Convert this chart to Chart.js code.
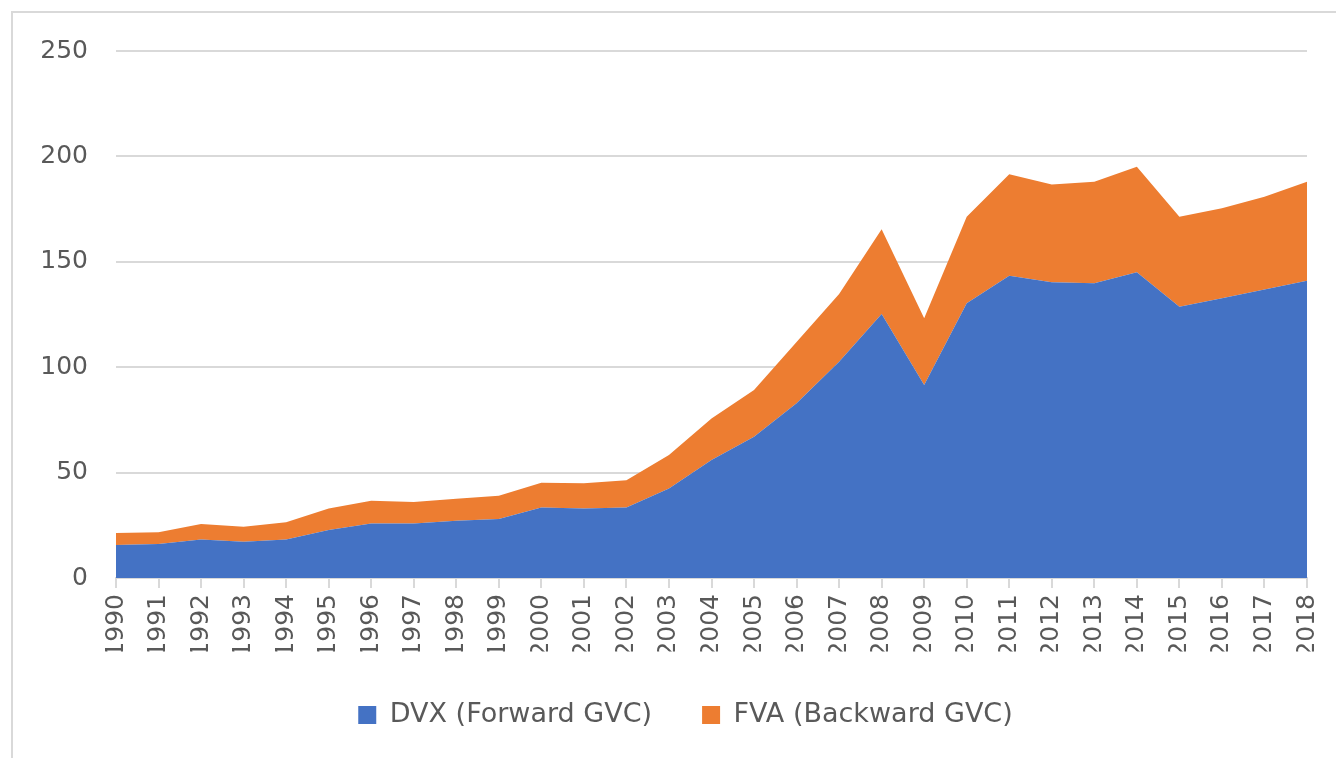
<!DOCTYPE html>
<html>
<head>
<meta charset="utf-8">
<script src="https://cdn.jsdelivr.net/npm/chart.js@4.4.1/dist/chart.umd.min.js"></script>
<style>
  html, body { margin: 0; padding: 0; background: #ffffff; }
  #wrap { position: relative; width: 1336px; height: 758px; overflow: hidden; }
  #frame { position: absolute; left: 11px; top: 11px; width: 1400px; height: 800px;
           border-left: 2px solid #d9d9d9; border-top: 2px solid #d9d9d9; pointer-events: none; }
  canvas { position: absolute; left: 0; top: 0; }
</style>
</head>
<body>
<div id="wrap">
  <canvas id="c" width="1336" height="758"></canvas>
  <div id="frame"></div>
</div>
<script>
const years = ["1990","1991","1992","1993","1994","1995","1996","1997","1998","1999",
               "2000","2001","2002","2003","2004","2005","2006","2007","2008","2009",
               "2010","2011","2012","2013","2014","2015","2016","2017","2018"];
const dvxForward = [15.6, 16.1, 18.3, 17.2, 18.3, 22.8, 25.9, 25.9, 27.2, 28.0,
                    33.5, 33.0, 33.5, 42.5, 56.0, 67.0, 82.9, 102.6, 125.2, 91.6,
                    130.3, 143.4, 140.3, 139.8, 145.0, 128.7, 132.7, 136.9, 141.0];
const fvaBackward = [5.7, 5.6, 7.3, 7.1, 8.1, 10.2, 10.8, 10.1, 10.4, 11.0,
                     11.7, 11.9, 12.9, 15.8, 19.7, 22.2, 29.1, 32.1, 40.2, 31.6,
                     41.1, 48.1, 46.4, 48.2, 50.1, 42.7, 42.7, 44.0, 47.0];
const seriesNames = ["DVX (Forward GVC)", "FVA (Backward GVC)"];
const yTicks = [0, 50, 100, 150, 200, 250];

const FONT = "'DejaVu Sans', sans-serif";
const GREY = '#d9d9d9';
const TXT = '#595959';

const legendShift = {
  id: 'legendShift',
  afterLayout(chart) {
    if (chart.legend) { chart.legend.left += 32; chart.legend.right += 32; }
  }
};

new Chart(document.getElementById('c'), {
  type: 'line',
  data: {
    labels: years,
    datasets: [
      { label: seriesNames[0], data: dvxForward, backgroundColor: '#4472c4', borderColor: '#4472c4',
        borderWidth: 0, pointRadius: 0, fill: 'origin', tension: 0 },
      { label: seriesNames[1], data: fvaBackward, backgroundColor: '#ed7d31', borderColor: '#ed7d31',
        borderWidth: 0, pointRadius: 0, fill: '-1', tension: 0 }
    ]
  },
  plugins: [legendShift],
  options: {
    responsive: false,
    animation: false,
    layout: { padding: { top: 51, right: 29, bottom: 19.5, left: 0 } },
    plugins: {
      tooltip: { enabled: false },
      legend: {
        position: 'bottom',
        labels: {
          font: { family: FONT, size: 27 },
          color: TXT,
          boxWidth: 18,
          boxHeight: 18,
          padding: 50
        }
      }
    },
    scales: {
      x: {
        offset: false,
        grid: { drawOnChartArea: false, drawTicks: true, tickLength: 10, color: GREY, lineWidth: 2 },
        border: { display: true, color: GREY, width: 2 },
        ticks: { font: { family: FONT, size: 25 }, color: TXT, maxRotation: 90, minRotation: 90, padding: 6, autoSkip: false },
        afterFit: (s) => { s.height = 73.5; s.paddingLeft = 0; s.paddingRight = 0; }
      },
      y: {
        stacked: true,
        min: yTicks[0],
        max: yTicks[yTicks.length - 1],
        afterBuildTicks: (s) => { s.ticks = yTicks.map(v => ({ value: v })); },
        grid: { color: GREY, lineWidth: 2, drawTicks: false },
        border: { display: false },
        ticks: { font: { family: FONT, size: 25 }, color: TXT, padding: 28 },
        afterFit: (s) => { s.width = 116; s.paddingTop = 0; s.paddingBottom = 0; }
      }
    }
  }
});
</script>
</body>
</html>
